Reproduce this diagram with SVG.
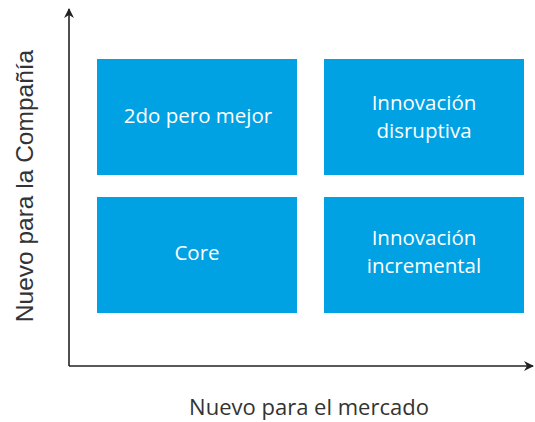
<svg xmlns="http://www.w3.org/2000/svg" width="535" height="422" viewBox="0 0 535 422">
<style>
.box{fill:#00a2e3}
.t{font-family:"Open Sans",sans-serif;font-size:20.5px;fill:#ffffff;text-anchor:middle}
.ax{stroke:#222;stroke-width:1.6;fill:none}
.lbl{font-family:"Open Sans",sans-serif;font-size:22px;fill:#333;text-anchor:middle}
.ylbl{font-family:"Liberation Sans",Arial,sans-serif;font-size:24.5px;fill:#333;text-anchor:middle}
</style>
<defs>
<marker id="ah" viewBox="0 0 10 10" refX="9" refY="5" markerWidth="10" markerHeight="10" markerUnits="userSpaceOnUse" orient="auto">
<path d="M0,0 L10,5 L0,10 L3,5 Z" fill="#222"/>
</marker>
</defs>
<rect width="535" height="422" fill="#fff"/>
<g id="connectors">
<path class="ax" d="M69,366 V9" marker-end="url(#ah)"/>
<path class="ax" d="M69,366 H533" marker-end="url(#ah)"/>
</g>
<g id="n1"><rect class="box" x="97" y="59" width="200" height="116"/><text class="t" x="198" y="123">2do pero mejor</text></g>
<g id="n2"><rect class="box" x="324" y="59" width="200" height="116"/><text class="t" x="424" y="110">Innovación</text><text class="t" x="424" y="138">disruptiva</text></g>
<g id="n3"><rect class="box" x="97" y="197" width="200" height="116"/><text class="t" x="197" y="260">Core</text></g>
<g id="n4"><rect class="box" x="324" y="197" width="200" height="116"/><text class="t" x="424" y="245">Innovación</text><text class="t" x="424" y="273">incremental</text></g>
<text class="lbl" x="309" y="415">Nuevo para el mercado</text>
<text class="ylbl" transform="translate(33,186) rotate(-90)">Nuevo para la Compañía</text>
</svg>
